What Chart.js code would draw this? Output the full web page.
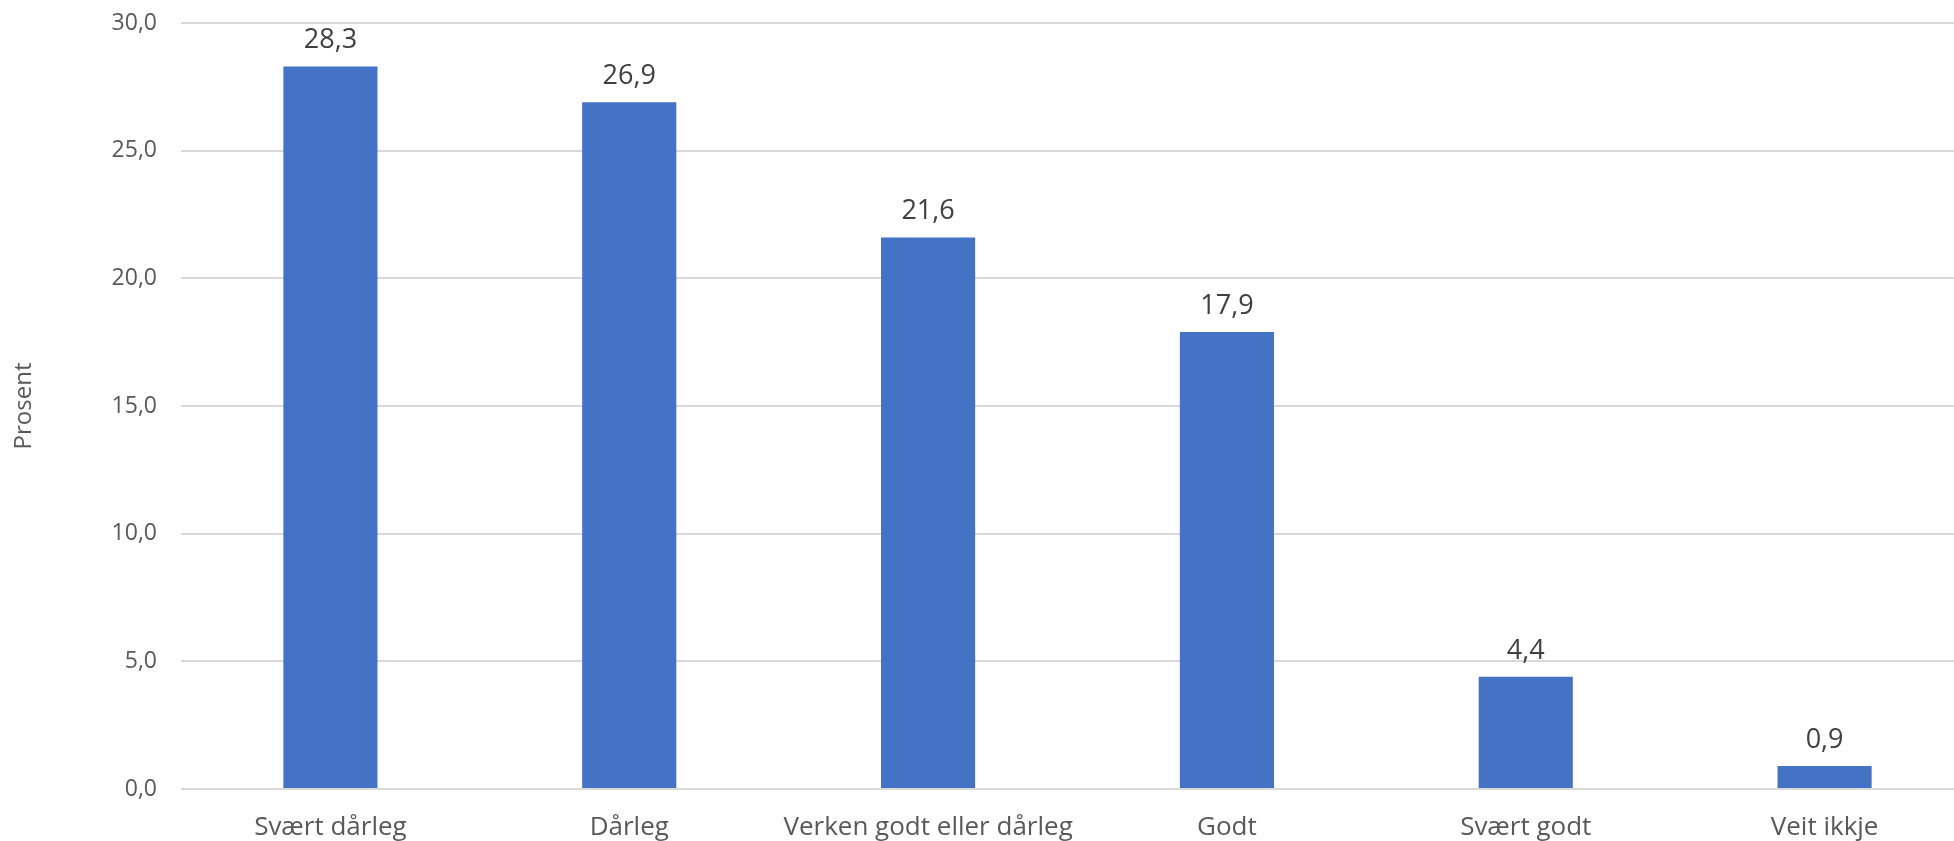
<!DOCTYPE html>
<html>
<head>
<meta charset="utf-8">
<script src="https://cdn.jsdelivr.net/npm/chart.js@4/dist/chart.umd.min.js"></script>
<style>
    html, body { margin: 0; padding: 0; background: #fff; overflow: hidden; }
    #wrap { position: relative; width: 1974px; height: 841px; }
</style>
</head>
<body>
<div id="wrap"><canvas id="chart"></canvas></div>
<script>
let categories = ['Svært dårleg', 'Dårleg', 'Verken godt eller dårleg', 'Godt', 'Svært godt', 'Veit ikkje']
let values = [28.3, 26.9, 21.6, 17.9, 4.4, 0.9]
let yTicks = [0, 5, 10, 15, 20, 25, 30]

let textColor = '#595959'
let fmt = v => Number(v).toFixed(1).replace('.', ',')

// draws the value above each bar
let barLabels = {
    id: 'barLabels',
    afterDatasetsDraw(chart) {
        let ctx = chart.ctx
        let meta = chart.getDatasetMeta(0)
        ctx.save()
        ctx.font = '27px "Open Sans"'
        ctx.fillStyle = '#404040'
        ctx.textAlign = 'center'
        ctx.textBaseline = 'alphabetic'
        meta.data.forEach((bar, i) => {
            ctx.fillText(fmt(values[i]), bar.x, bar.y - 18)
        })
        ctx.restore()
    }
}

new Chart(document.getElementById('chart'), {
    type: 'bar',
    data: {
        labels: categories,
        datasets: [{
            data: values,
            backgroundColor: '#4472C4',
            barPercentage: 0.315,
            categoryPercentage: 1
        }]
    },
    options: {
        responsive: true,
        maintainAspectRatio: false,
        animation: false,
        layout: { padding: { top: 23, left: 0, right: 0, bottom: 0 } },
        plugins: {
            legend: { display: false },
            tooltip: { enabled: false }
        },
        scales: {
            x: {
                grid: { display: false },
                border: { display: false },
                ticks: {
                    color: textColor,
                    font: { family: 'Open Sans', size: 26 },
                    padding: 15,
                    maxRotation: 0
                },
                afterFit: scale => {
                    scale.height = 52
                    scale.paddingLeft = 0
                    scale.paddingRight = 0
                }
            },
            y: {
                min: 0,
                max: 30,
                afterBuildTicks: scale => { scale.ticks = yTicks.map(v => ({ value: v })) },
                grid: { color: '#d9d9d9', lineWidth: 2, drawTicks: false },
                border: { display: false },
                ticks: {
                    color: textColor,
                    font: { family: 'Open Sans', size: 23 },
                    padding: 24,
                    callback: v => fmt(v)
                },
                title: {
                    display: true,
                    text: 'Prosent',
                    color: textColor,
                    font: { family: 'Open Sans', size: 24 },
                    padding: { top: 10, bottom: 0 }
                },
                afterFit: scale => {
                    scale.width = 181
                    scale.paddingTop = 0
                    scale.paddingBottom = 0
                }
            }
        }
    },
    plugins: [barLabels]
})
</script>
</body>
</html>
